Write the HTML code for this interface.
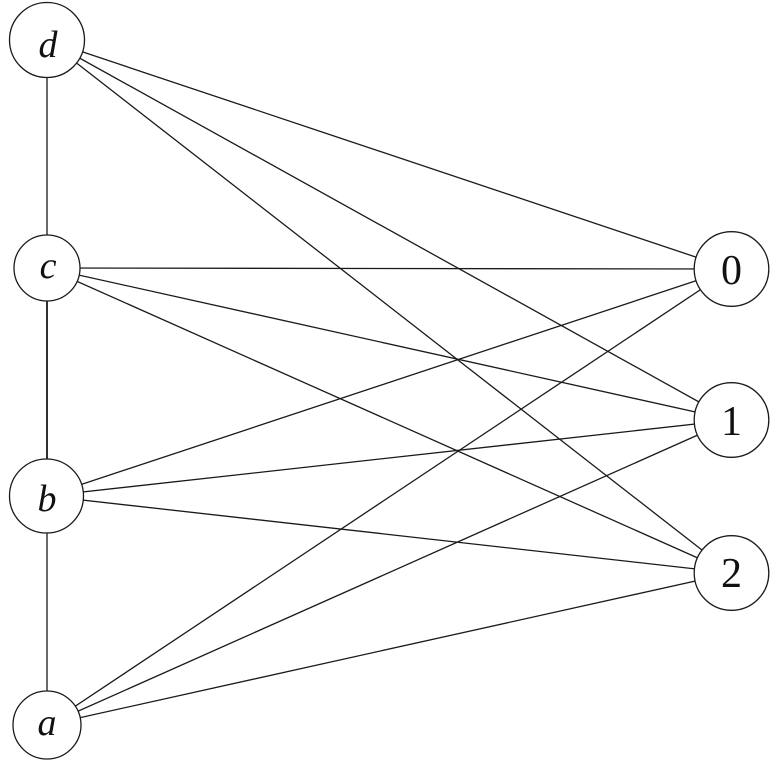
<!DOCTYPE html>
<html>
<head>
<meta charset="utf-8">
<style>
  html, body { margin: 0; padding: 0; background: #fff; }
  svg { display: block; }
  text { font-family: "Liberation Serif", "DejaVu Serif", serif; fill: #111; }
  .l { font-style: italic; font-size: 38px; }
  .n { font-size: 42px; }
</style>
</head>
<body>
<svg width="774" height="765" viewBox="0 0 774 765" xmlns="http://www.w3.org/2000/svg">
  <g stroke="#1a1a1a" stroke-width="1.3" fill="none">
    <!-- vertical chain -->
    <line x1="47" y1="40" x2="47" y2="268"/>
    <line x1="47" y1="268" x2="47" y2="496" stroke-width="1.8"/>
    <line x1="47" y1="496" x2="47" y2="725"/>
    <!-- d -->
    <line x1="47" y1="40" x2="731.5" y2="269"/>
    <line x1="47" y1="40" x2="731.5" y2="420"/>
    <line x1="47" y1="40" x2="731.5" y2="573"/>
    <!-- c -->
    <line x1="47" y1="268" x2="731.5" y2="269"/>
    <line x1="47" y1="268" x2="731.5" y2="420"/>
    <line x1="47" y1="268" x2="731.5" y2="573"/>
    <!-- b -->
    <line x1="46.5" y1="496" x2="731.5" y2="269"/>
    <line x1="46.5" y1="496" x2="731.5" y2="420"/>
    <line x1="46.5" y1="496" x2="731.5" y2="573"/>
    <!-- a -->
    <line x1="47" y1="725" x2="731.5" y2="269"/>
    <line x1="47" y1="725" x2="731.5" y2="420"/>
    <line x1="47" y1="725" x2="731.5" y2="573"/>
  </g>
  <g stroke="#1a1a1a" stroke-width="1.3" fill="#fff">
    <circle cx="47" cy="40" r="37.5"/>
    <circle cx="47" cy="268" r="33"/>
    <circle cx="46.5" cy="496" r="37"/>
    <circle cx="47" cy="725" r="34"/>
    <circle cx="731.5" cy="269" r="37.3"/>
    <circle cx="731.5" cy="420" r="37.3"/>
    <circle cx="731.5" cy="573" r="37.3"/>
  </g>
  <text class="l" x="48" y="57" text-anchor="middle">d</text>
  <text class="l" x="48" y="278" text-anchor="middle">c</text>
  <text class="l" x="47" y="511" text-anchor="middle">b</text>
  <text class="l" x="47" y="735" text-anchor="middle">a</text>
  <text class="n" x="731.5" y="284" text-anchor="middle">0</text>
  <text class="n" x="731.5" y="435" text-anchor="middle">1</text>
  <text class="n" x="731.5" y="587" text-anchor="middle">2</text>
</svg>
</body>
</html>
